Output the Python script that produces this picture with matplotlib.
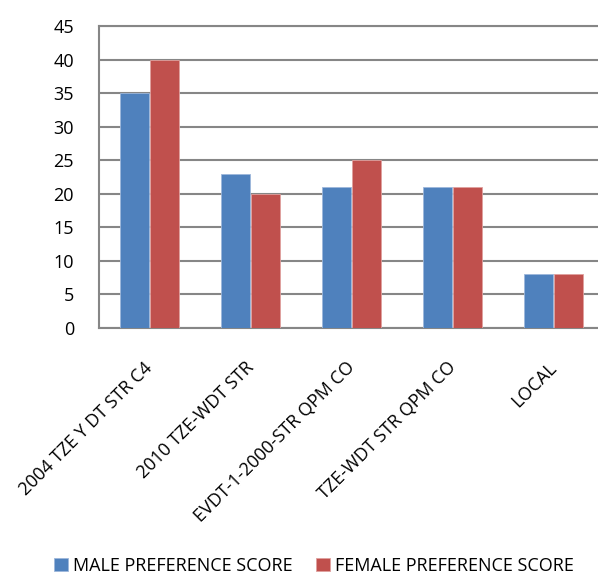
import matplotlib
matplotlib.use("Agg")
import matplotlib.pyplot as plt
import matplotlib.transforms as mtransforms
import numpy as np

categories = ["2004 TZE Y DT STR C4", "2010 TZE-WDT STR", "EVDT-1-2000-STR QPM CO",
              "TZE-WDT STR QPM CO", "LOCAL"]
male = [35, 23, 21, 21, 8]
female = [40, 20, 25, 21, 8]
series_names = ["MALE PREFERENCE SCORE", "FEMALE PREFERENCE SCORE"]
yticks = [0, 5, 10, 15, 20, 25, 30, 35, 40, 45]

plt.rcParams['font.family'] = ['Open Sans', 'DejaVu Sans']

W, H = 598, 575
fig = plt.figure(figsize=(W/100, H/100), dpi=100)
left, right, top, bottom = 99, 604, 26, 328
ax = fig.add_axes([left/W, 1 - bottom/H, (right-left)/W, (bottom-top)/H])

x = np.arange(len(categories))
bw = 0.285
blue = "#4F81BD"
red = "#C0504D"
b1 = ax.bar(x - bw/2 - 0.005, male, bw, color=blue, edgecolor="#9DB7DB", linewidth=0.6, zorder=3,
            label=series_names[0])
b2 = ax.bar(x + bw/2 + 0.005, female, bw, color=red, edgecolor="#E0A09E", linewidth=0.6, zorder=3,
            label=series_names[1])

ax.set_xlim(-0.5, len(categories) - 0.5)
ax.set_ylim(0, 45)
ax.set_yticks(yticks)
ax.yaxis.grid(True, color="#868686", linewidth=1.5, zorder=0)
ax.set_axisbelow(True)
for s in ["left", "top", "bottom"]:
    ax.spines[s].set_color("#868686")
    ax.spines[s].set_linewidth(1.5)
ax.spines["right"].set_visible(False)
ax.tick_params(axis="y", length=0, labelsize=13, pad=18)
ax.tick_params(axis="x", length=0, labelsize=13, pad=22)
ax.set_xticks(x)
ax.set_xticklabels(categories, rotation=45, ha="right", va="top", rotation_mode="anchor")
shift = mtransforms.ScaledTranslation(-6/100, 0, fig.dpi_scale_trans)
for lbl in ax.get_xticklabels():
    lbl.set_transform(lbl.get_transform() + shift)

fig.legend(handles=[b1, b2], labels=series_names, loc="center", bbox_to_anchor=(314/W, 1 - 566/H),
           ncol=2, frameon=False, fontsize=13, handlelength=0.75, handleheight=0.75,
           handletextpad=0.3, columnspacing=1.3)

fig.savefig("out.png", dpi=100)
